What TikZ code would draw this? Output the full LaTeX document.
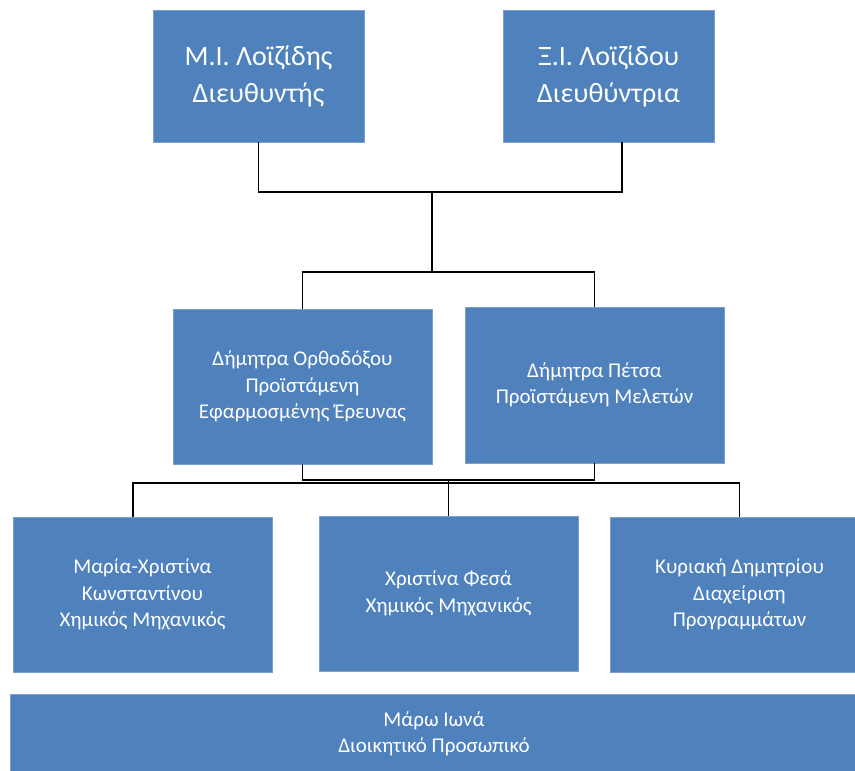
\documentclass[tikz,border=0pt]{standalone}
\usepackage{fontspec}
\setmainfont{Carlito}
\definecolor{boxblue}{HTML}{4F81BD}
\tikzset{
    unit/.style={fill=boxblue, draw=boxblue!75!white, line width=0.6pt, text=white,
        align=center, inner sep=0pt, minimum width=259pt, minimum height=155pt,
        font=\fontsize{21}{26.5}\selectfont},
    head/.style={unit, minimum width=211pt, minimum height=132pt,
        font=\fontsize{28}{37}\selectfont},
    link/.style={line width=1.5pt, black},
}
\begin{document}
\begin{tikzpicture}[x=1pt, y=-1pt]
                \useasboundingbox (0,0) rectangle (855,771);
                % directors
                \node[head] (headA) at (258.5,76) {Μ.Ι. Λοϊζίδης\\Διευθυντής};
                \node[head] (headB) at (608.5,76) {Ξ.Ι. Λοϊζίδου\\Διευθύντρια};
                % heads of department
                \node[unit] (leadA) at (302.5,386.5) {Δήμητρα Ορθοδόξου\\Προϊστάμενη\\Εφαρμοσμένης Έρευνας};
                \node[unit, minimum height=156pt] (leadB) at (594.5,385) {Δήμητρα Πέτσα\\Προϊστάμενη Μελετών};
                % staff
                \node[unit] (staffA) at (142.5,594.5) {Μαρία-Χριστίνα\\Κωνσταντίνου\\Χημικός Μηχανικός};
                \node[unit] (staffB) at (448.5,593.5) {Χριστίνα Φεσά\\Χημικός Μηχανικός};
                \node[unit] (staffC) at (739.5,594.5) {Κυριακή Δημητρίου\\Διαχείριση\\Προγραμμάτων};
                \node[unit, minimum width=848pt, minimum height=80pt] (office) at (434,734) {Μάρω Ιωνά\\Διοικητικό Προσωπικό};
                % connectors
                \coordinate (topjoin) at (432,192);
                \coordinate (midjoin) at (432,272);
                \coordinate (lowjoin) at (448.5,480);
                \coordinate (bus) at (448.5,483);
                \draw[link] (headA.south) |- (topjoin) -| ([xshift=13.5pt]headB.south);
                \draw[link] (topjoin) -- (midjoin);
                \draw[link] (leadA.north) |- (midjoin) -| (leadB.north);
                \draw[link] (leadA.south) |- (lowjoin) -| (leadB.south);
                \draw[link] ([xshift=-9.5pt]staffA.north) |- (bus) -| (staffC.north);
                \draw[link] (lowjoin) -- (staffB.north);
            \end{tikzpicture}
\end{document}
